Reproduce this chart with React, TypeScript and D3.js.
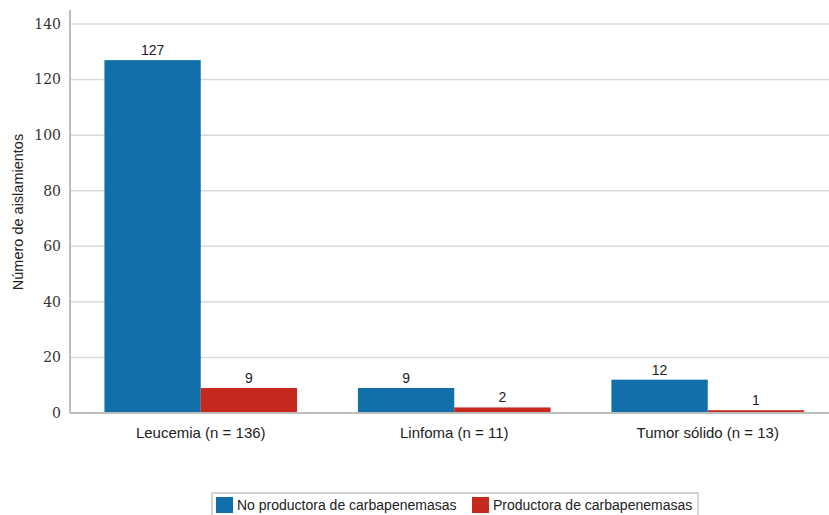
import React from "react";
import * as d3 from "d3";

const categories = ["Leucemia (n = 136)", "Linfoma (n = 11)", "Tumor sólido (n = 13)"];
const seriesNames = ["No productora de carbapenemasas", "Productora de carbapenemasas"];
const noProductora = [127, 9, 12];
const productora = [9, 2, 1];
const yTicks = [0, 20, 40, 60, 80, 100, 120, 140];
const seriesColors = ["#1170aa", "#c6291e"];

const W = 829;
const H = 515;
const axisX = 70;
const yTop = 24;
const yBase = 413;

export default function App() {
  const x = d3
    .scaleBand<string>()
    .domain(categories)
    .range([74, 834.5])
    .paddingInner(0.24)
    .paddingOuter(0.12);
  const xs = d3.scaleBand<number>().domain([0, 1]).range([0, x.bandwidth()]);
  const y = d3.scaleLinear().domain([0, 140]).range([yBase, yTop]);
  const series = [noProductora, productora];
  const sans = "'Liberation Sans', Arial, sans-serif";
  const serif = "'DejaVu Serif', 'Liberation Serif', serif";

  return (
    <svg
      width={W}
      height={H}
      style={{ position: "absolute", left: 0, top: 0, background: "#fff" }}
    >
      {yTicks.map((t) => (
        <g key={t}>
          {t > 0 && (
            <line x1={axisX} x2={W} y1={y(t)} y2={y(t)} stroke="#d9d9d9" strokeWidth={1.5} />
          )}
          <text
            x={61}
            y={y(t)}
            dy="0.35em"
            textAnchor="end"
            fontFamily={serif}
            fontSize={14}
            fill="#333"
          >
            {t}
          </text>
        </g>
      ))}
      {categories.map((c, i) => (
        <g key={c}>
          {series.map((s, j) => {
            const bx = (x(c) ?? 0) + (xs(j) ?? 0);
            return (
              <g key={j}>
                <rect
                  x={bx}
                  y={y(s[i])}
                  width={xs.bandwidth()}
                  height={yBase - y(s[i])}
                  fill={seriesColors[j]}
                />
                <text
                  x={bx + xs.bandwidth() / 2}
                  y={y(s[i]) - 5}
                  textAnchor="middle"
                  fontFamily={sans}
                  fontSize={14}
                  fill="#222"
                >
                  {s[i]}
                </text>
              </g>
            );
          })}
          <text
            x={(x(c) ?? 0) + x.bandwidth() / 2}
            y={438}
            textAnchor="middle"
            fontFamily={sans}
            fontSize={15}
            fill="#222"
          >
            {c}
          </text>
        </g>
      ))}
      <line x1={axisX} x2={W} y1={yBase} y2={yBase} stroke="#bdbdbd" strokeWidth={2} />
      <line x1={axisX} x2={axisX} y1={10} y2={yBase} stroke="#bdbdbd" strokeWidth={2} />
      <text
        transform={`translate(23, 212) rotate(-90)`}
        textAnchor="middle"
        fontFamily={sans}
        fontSize={14.5}
        fill="#222"
      >
        Número de aislamientos
      </text>
      <g>
        <rect x={212} y={493} width={486} height={30} fill="#fff" stroke="#c8c8c8" strokeWidth={1.5} />
        {seriesNames.map((n, j) => {
          const lx = j === 0 ? 216 : 472;
          return (
            <g key={n}>
              <rect x={lx} y={497} width={17} height={16} fill={seriesColors[j]} />
              <text x={lx + 21} y={510} fontFamily={sans} fontSize={14} fill="#222">
                {n}
              </text>
            </g>
          );
        })}
      </g>
    </svg>
  );
}
